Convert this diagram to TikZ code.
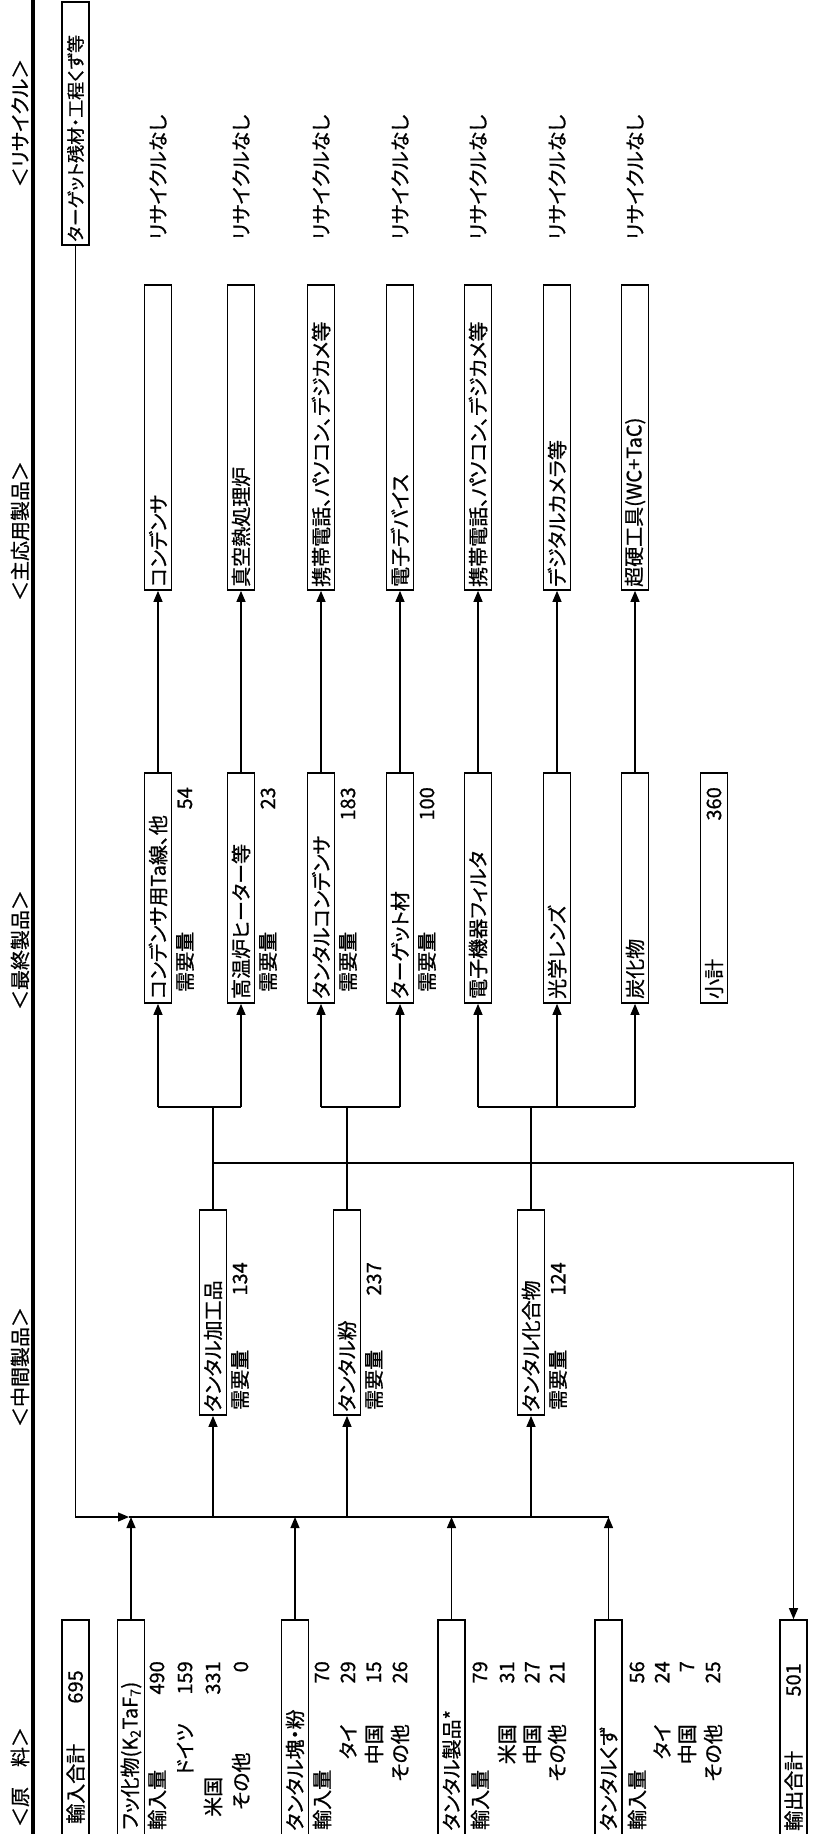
\documentclass[tikz,border=0pt]{standalone}
\usepackage{fontspec}
\setmainfont{Noto Sans CJK JP}[RawFeature=+palt,RawFeature={embolden=0.8}]
\usetikzlibrary{arrows.meta}
\newcommand\jpf{\fontsize{20}{24}\selectfont}
\newcommand\jps{\fontsize{18}{22}\selectfont}
\begin{document}
\begin{tikzpicture}[x=1pt,y=-1pt,
  bx/.style={draw,line width=1.7pt,minimum width=27pt,inner sep=0pt},
  lb/.style={rotate=90,anchor=west,inner sep=0pt,font=\jpf},
  nr/.style={rotate=90,anchor=east,inner sep=0pt,font=\jpf},
  hd/.style={rotate=90,anchor=center,inner sep=0pt,font=\jpf},
  ln/.style={line width=1.3pt},
  arr/.style={line width=1.3pt,-{Triangle[length=11pt,width=9pt]}}]
\useasboundingbox (0,0) rectangle (829,1834);
\clip (0,0) rectangle (829,1834);
% separator
\draw[line width=3.2pt] (33,-5) -- (33,1840);
% headers
\node[hd] (h1) at (20,1777) {＜原　料＞};
\node[hd] (h2) at (20,1367) {＜中間製品＞};
\node[hd] (h3) at (20,950) {＜最終製品＞};
\node[hd] (h4) at (20,531) {＜主応用製品＞};
\node[hd] (h5) at (20,123) {＜リサイクル＞};
% raw material boxes
\node[bx,minimum height=220pt] (tin) at (75.5,1730) {};
\node[bx,minimum height=220pt] (fk) at (131,1730) {};
\node[bx,minimum height=220pt] (kf) at (295,1730) {};
\node[bx,minimum height=220pt] (ps) at (451.5,1730) {};
\node[bx,minimum height=220pt] (ks) at (608.5,1730) {};
\node[bx,minimum height=220pt] (out) at (793.5,1730) {};
% recycle box
\node[bx,minimum height=243pt] (tgt) at (75.5,123.5) {};
% intermediate boxes
\node[bx,minimum height=205pt] (m1) at (213,1312.5) {};
\node[bx,minimum height=205pt] (m2) at (347,1312.5) {};
\node[bx,minimum height=205pt] (m3) at (531,1312.5) {};
% final product boxes
\foreach \n/\x in {1/158,2/241,3/321,4/400,5/478,6/557,7/635,8/714}
  \node[bx,minimum height=230pt] (f\n) at (\x,888) {};
% application boxes
\foreach \n/\x in {1/158,2/241,3/321,4/400,5/478,6/557,7/635}
  \node[bx,minimum height=305pt] (a\n) at (\x,437.5) {};
% ---- texts: raw materials
\node[lb] (ttin) at (75.5,1824) {輸入合計};
\node[nr] (vtin) at (75.5,1670) {695};
\node[lb] (tfk) at (131,1830) {フッ化物(K\textsubscript{2}TaF\textsubscript{7})};
\node[lb] (fk1) at (157,1830) {輸入量};  \node[nr] (fk1v) at (157,1661) {490};
\node[nr] (fk2) at (185,1723) {ドイツ};  \node[nr] (fk2v) at (185,1661) {159};
\node[lb] (fk3) at (213,1817) {米国};    \node[nr] (fk3v) at (213,1661) {331};
\node[lb] (fk4) at (241,1810) {その他};  \node[nr] (fk4v) at (241,1661) {0};
\node[lb] (tkf) at (295,1831) {タンタル塊・粉};
\node[lb] (kf1) at (322,1830) {輸入量};  \node[nr] (kf1v) at (322,1661) {70};
\node[nr] (kf2) at (348,1724) {タイ};    \node[nr] (kf2v) at (348,1661) {29};
\node[nr] (kf3) at (374,1724) {中国};    \node[nr] (kf3v) at (374,1661) {15};
\node[nr] (kf4) at (400,1724) {その他};  \node[nr] (kf4v) at (400,1661) {26};
\node[lb] (tps) at (451.5,1831) {タンタル製品*};
\node[lb] (ps1) at (480,1830) {輸入量};  \node[nr] (ps1v) at (480,1661) {79};
\node[nr] (ps2) at (507,1724) {米国};    \node[nr] (ps2v) at (507,1661) {31};
\node[nr] (ps3) at (532,1724) {中国};    \node[nr] (ps3v) at (532,1661) {27};
\node[nr] (ps4) at (557,1724) {その他};  \node[nr] (ps4v) at (557,1661) {21};
\node[lb] (tks) at (608.5,1831) {タンタルくず};
\node[lb] (ks1) at (637,1830) {輸入量};  \node[nr] (ks1v) at (637,1661) {56};
\node[nr] (ks2) at (662,1724) {タイ};    \node[nr] (ks2v) at (662,1661) {24};
\node[nr] (ks3) at (687,1724) {中国};    \node[nr] (ks3v) at (687,1661) {7};
\node[nr] (ks4) at (713,1724) {その他};  \node[nr] (ks4v) at (713,1661) {25};
\node[lb] (tout) at (793.5,1831) {輸出合計};
\node[nr] (vout) at (793.5,1663) {501};
% ---- intermediate texts
\node[lb] (tm1) at (213,1412) {タンタル加工品};
\node[lb] (dm1) at (240,1410) {需要量}; \node[nr] (vm1) at (240,1262) {134};
\node[lb] (tm2) at (347,1412) {タンタル粉};
\node[lb] (dm2) at (374,1410) {需要量}; \node[nr] (vm2) at (374,1262) {237};
\node[lb] (tm3) at (531,1412) {タンタル化合物};
\node[lb] (dm3) at (558,1410) {需要量}; \node[nr] (vm3) at (558,1262) {124};
% ---- final product texts
\node[lb] (tf1) at (158,999) {コンデンサ用Ta線、他};
\node[lb] (df1) at (185,992) {需要量}; \node[nr] (vf1) at (185,787) {54};
\node[lb] (tf2) at (241,999) {高温炉ヒーター等};
\node[lb] (df2) at (268,992) {需要量}; \node[nr] (vf2) at (268,787) {23};
\node[lb] (tf3) at (321,999) {タンタルコンデンサ};
\node[lb] (df3) at (348,992) {需要量}; \node[nr] (vf3) at (348,787) {183};
\node[lb] (tf4) at (400,999) {ターゲット材};
\node[lb] (df4) at (427,992) {需要量}; \node[nr] (vf4) at (427,787) {100};
\node[lb] (tf5) at (478,999) {電子機器フィルタ};
\node[lb] (tf6) at (557,999) {光学レンズ};
\node[lb] (tf7) at (635,999) {炭化物};
\node[lb] (tf8) at (714,999) {小計};
\node[nr] (vf8) at (714,787) {360};
% ---- application texts
\node[lb] (ta1) at (158,587) {コンデンサ};
\node[lb] (ta2) at (241,587) {真空熱処理炉};
\node[lb] (ta3) at (321,587) {携帯電話、パソコン、デジカメ等};
\node[lb] (ta4) at (400,587) {電子デバイス};
\node[lb] (ta5) at (478,587) {携帯電話、パソコン、デジカメ等};
\node[lb] (ta6) at (557,587) {デジタルカメラ等};
\node[lb] (ta7) at (635,587) {超硬工具(WC+TaC)};
% ---- recycle texts
\node[lb,font=\jps] (ttgt) at (75.5,242) {ターゲット残材・工程くず等};
\foreach \n/\x in {1/158,2/241,3/321,4/400,5/478,6/557,7/635}
  \node[lb] (r\n) at (\x,240) {リサイクルなし};
% ---- connectors
\coordinate (busA) at (129,1517);
\coordinate (busB) at (609,1517);
\coordinate (br) at (0,1107);
\coordinate (ex) at (0,1163);
\draw[arr] (tgt.south) |- (busA);
\draw[ln] (busA) -- (busB);
\foreach \b in {fk,kf,ps,ks}
  \draw[arr] (\b.north) -- (\b.north |- busA);
\foreach \m in {m1,m2,m3}{
  \draw[arr] (\m.south |- busA) -- (\m.south);
  \draw[ln] (\m.north) -- (\m.north |- br);
}
\draw[ln] (f1.south |- br) -- (f2.south |- br);
\draw[ln] (f3.south |- br) -- (f4.south |- br);
\draw[ln] (f5.south |- br) -- (f7.south |- br);
\foreach \n in {1,...,7}{
  \draw[arr] (f\n.south |- br) -- (f\n.south);
  \draw[arr] (f\n.north) -- (a\n.south);
}
\draw[arr] (m1.north |- ex) -| (out.north);
\end{tikzpicture}
\end{document}
